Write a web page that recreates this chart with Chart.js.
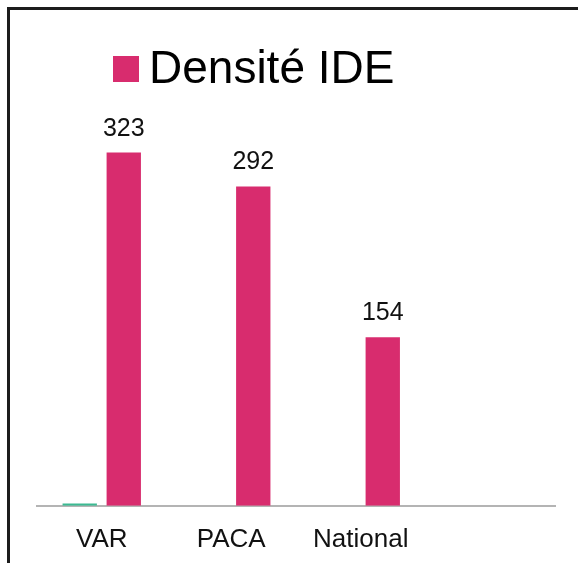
<!DOCTYPE html>
<html>
<head>
<meta charset="utf-8">
<title>Densité IDE</title>
<script src="https://cdn.jsdelivr.net/npm/chart.js@4/dist/chart.umd.min.js"></script>
<style>
  html, body { margin: 0; padding: 0; background: #fff; }
  #wrap { position: relative; width: 578px; height: 563px; overflow: hidden; }
  #frame {
    position: absolute; left: 7px; top: 7px; width: 620px; height: 620px;
    border-left: 3px solid #1c1c1c; border-top: 3px solid #1c1c1c;
    box-sizing: border-box;
  }
  canvas { position: absolute; left: 0; top: 0; }
</style>
</head>
<body>
<div id="wrap">
  <div id="frame"></div>
  <canvas id="chart" width="578" height="563"></canvas>
</div>
<script>
// ========== Data ==========
const categories = ["VAR", "PACA", "National", ""];
const serieAutre = [2, null, null, null];          // petite barre verte (VAR)
const densiteIDE = [323, 292, 154, null];
const serieLabel = "Densité IDE";

const PINK = "#d82c6e";
const GREEN = "#3cba92";
const FONT = "'Liberation Sans', Arial, sans-serif";

// ========== Plugins ==========
// valeurs au-dessus des barres roses
const valueLabels = {
  id: "valueLabels",
  afterDatasetsDraw(chart) {
    const ctx = chart.ctx;
    const meta = chart.getDatasetMeta(1);
    ctx.save();
    ctx.font = `25px ${FONT}`;
    ctx.fillStyle = "#111";
    ctx.textAlign = "center";
    ctx.textBaseline = "alphabetic";
    meta.data.forEach((bar, i) => {
      const v = densiteIDE[i];
      if (v == null) return;
      ctx.fillText(String(v), bar.x, bar.y - 17);
    });
    ctx.restore();
  },
};

// légende (carré rose + texte)
const bigLegend = {
  id: "bigLegend",
  afterDraw(chart) {
    const ctx = chart.ctx;
    ctx.save();
    ctx.fillStyle = chart.data.datasets[1].backgroundColor;
    ctx.fillRect(113, 56, 26, 26);
    ctx.font = `46px ${FONT}`;
    ctx.fillStyle = "#000";
    ctx.textAlign = "left";
    ctx.textBaseline = "alphabetic";
    ctx.fillText(chart.data.datasets[1].label, 149, 83);
    ctx.restore();
  },
};

// ========== Chart ==========
const chart = new Chart(document.getElementById("chart"), {
  type: "bar",
  data: {
    labels: categories,
    datasets: [
      { label: "", data: serieAutre, backgroundColor: GREEN,
        barPercentage: 0.78, categoryPercentage: 0.68 },
      { label: serieLabel, data: densiteIDE, backgroundColor: PINK,
        barPercentage: 0.78, categoryPercentage: 0.68 },
    ],
  },
  options: {
    responsive: false,
    animation: false,
    layout: { padding: { top: 100, left: 37, right: 23, bottom: -10 } },
    plugins: {
      legend: { display: false },
      tooltip: { enabled: false },
    },
    scales: {
      x: {
        grid: { display: false, drawTicks: false },
        border: { display: true, color: "#b4b4b4", width: 2 },
        ticks: { color: "#111", font: { family: FONT, size: 26 }, padding: 18, maxRotation: 0 },
      },
      y: {
        display: false,
        min: 0,
        max: 371,
      },
    },
  },
  plugins: [valueLabels, bigLegend],
});
</script>
</body>
</html>
